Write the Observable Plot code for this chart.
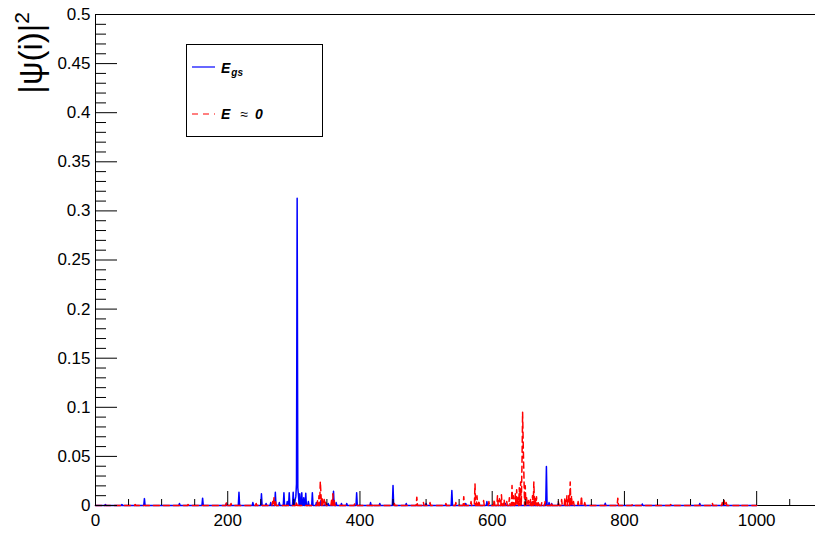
<!DOCTYPE html>
<html>
<head>
<meta charset="utf-8">
<script src="https://cdn.jsdelivr.net/npm/d3@7"></script>
<script src="https://cdn.jsdelivr.net/npm/@observablehq/plot@0.6"></script>
<style>
  html, body { margin: 0; padding: 0; background: #fff; }
  #chart svg { display: block; }
</style>
</head>
<body>
<div id="chart"></div>
<script>
// ---- Data ----
const nSites = 1000;

// ground state |psi(i)|^2 : site index and value of each visible spike
const gsSite  = [15, 40, 74, 127, 162, 198, 217, 238, 251, 258, 265, 272, 278, 285, 290, 293, 299, 302, 303, 304, 305, 306, 307, 309, 312, 315, 318, 322, 328, 334, 341, 348, 352, 360, 364, 372, 380, 395, 416, 430, 450, 470, 500, 539, 560, 592, 620, 650, 660, 670, 682, 686, 690, 700, 771, 827, 914];
const gsValue = [0.001, 0.001, 0.007, 0.002, 0.0075, 0.002, 0.0135, 0.003, 0.012, 0.002, 0.003, 0.0135, 0.003, 0.013, 0.004, 0.013, 0.0135, 0.006, 0.009, 0.022, 0.313, 0.018, 0.01, 0.012, 0.013, 0.008, 0.0125, 0.004, 0.013, 0.003, 0.005, 0.003, 0.002, 0.0146, 0.003, 0.002, 0.002, 0.013, 0.003, 0.002, 0.0204, 0.002, 0.002, 0.0153, 0.002, 0.004, 0.002, 0.003, 0.003, 0.002, 0.0397, 0.003, 0.002, 0.002, 0.0023, 0.0015, 0.002];

// E ~ 0 state |psi(i)|^2
const e0Site  = [10, 60, 140, 198, 205, 243, 268, 270, 272, 304, 336, 338, 340, 341, 343, 346, 348, 357, 359, 361, 392, 420, 452, 486, 496, 506, 530, 545, 557, 568, 574, 577, 580, 587, 595, 603, 608, 611, 614, 618, 622, 626, 630, 632, 635, 637, 639, 641, 643, 645, 646, 647, 648, 650, 652, 655, 658, 661, 663, 665, 667, 670, 675, 680, 690, 700, 705, 710, 713, 716, 718, 720, 723, 730, 735, 740, 790, 812, 870, 933, 948, 951, 954, 976];
const e0Value = [0.001, 0.001, 0.001, 0.003, 0.002, 0.002, 0.004, 0.008, 0.005, 0.004, 0.006, 0.01, 0.0244, 0.012, 0.008, 0.006, 0.003, 0.005, 0.012, 0.006, 0.002, 0.002, 0.002, 0.0085, 0.003, 0.003, 0.002, 0.003, 0.009, 0.004, 0.022, 0.01, 0.005, 0.005, 0.004, 0.006, 0.01, 0.007, 0.011, 0.006, 0.004, 0.008, 0.0204, 0.01, 0.012, 0.016, 0.008, 0.018, 0.024, 0.04, 0.095, 0.06, 0.03, 0.02, 0.008, 0.005, 0.006, 0.01, 0.024, 0.008, 0.009, 0.004, 0.003, 0.004, 0.003, 0.004, 0.006, 0.008, 0.01, 0.012, 0.024, 0.01, 0.004, 0.004, 0.0095, 0.003, 0.0075, 0.001, 0.001, 0.0024, 0.003, 0.005, 0.003, 0.001];

// axes
const xDomain = [0, 1089];
const yDomain = [0, 0.5];
const xMajorTicks = [0, 200, 400, 600, 800, 1000];
const xMinorTicks = [50, 100, 150, 250, 300, 350, 450, 500, 550, 650, 700, 750, 850, 900, 950, 1050];
const yMajorTicks = [0, 0.05, 0.1, 0.15, 0.2, 0.25, 0.3, 0.35, 0.4, 0.45, 0.5];
const yTickLabels = ["0", "0.05", "0.1", "0.15", "0.2", "0.25", "0.3", "0.35", "0.4", "0.45", "0.5"];
const yMinorTicks = d3.range(0, 50).filter(k => k % 5 !== 0).map(k => k / 100);

const legendLabels = ["E", "gs", "E", "≈", "0"];

// full per-site series (sites without a visible spike sit on zero)
function buildSeries(sites, values) {
  const m = new Map(sites.map((s, k) => [s, values[k]]));
  return d3.range(0, nSites + 1).map(i => ({i, v: m.get(i) ?? 0}));
}
const gsSeries = buildSeries(gsSite, gsValue);
const e0Series = buildSeries(e0Site, e0Value);

// ---- Layout ----
const W = 815, H = 539;
const mL = 95, mR = 0, mT = 14, mB = 34;
const plotW = W - mL - mR, plotH = H - mT - mB;
const font = "'Liberation Sans', Arial, Helvetica, sans-serif";

const chart = Plot.plot({
  width: W,
  height: H,
  marginLeft: mL,
  marginRight: mR,
  marginTop: mT,
  marginBottom: mB,
  style: {background: "#fff", fontFamily: font},
  x: {domain: xDomain, axis: null},
  y: {domain: yDomain, axis: null},
  marks: [
    // frame lines
    Plot.ruleY([yDomain[1]], {stroke: "#000", strokeWidth: 1}),
    Plot.ruleX([xDomain[0]], {stroke: "#000", strokeWidth: 1}),
    Plot.ruleY([yDomain[0]], {stroke: "#000", strokeWidth: 1}),
    // data
    Plot.line(gsSeries, {x: "i", y: "v", stroke: "#0000ff", strokeWidth: 1.5}),
    Plot.line(e0Series, {x: "i", y: "v", stroke: "#ff0000", strokeWidth: 1.5, strokeDasharray: "6,4"}),
    // inward ticks
    Plot.ruleX(xMajorTicks, {x: d => d, insetTop: plotH - 14, stroke: "#000"}),
    Plot.ruleX(xMinorTicks, {x: d => d, insetTop: plotH - 6, stroke: "#000"}),
    Plot.ruleY(yMajorTicks, {y: d => d, insetRight: plotW - 22, stroke: "#000"}),
    Plot.ruleY(yMinorTicks, {y: d => d, insetRight: plotW - 11, stroke: "#000"}),
    // tick labels
    Plot.axisX(xMajorTicks, {anchor: "bottom", tickSize: 0, tickPadding: 8, fontSize: 17, label: null, tickFormat: d => String(d), fill: "#000"}),
    Plot.axisY(yMajorTicks, {anchor: "left", tickSize: 0, tickPadding: 5, fontSize: 17, label: null, tickFormat: (d, k) => yTickLabels[k], fill: "#000"})
  ]
});

document.getElementById("chart").appendChild(chart);

// ---- Y-axis title and legend (ROOT-style, in pixel/NDC space) ----
const svg = d3.select(chart);

const title = svg.append("text")
  .attr("transform", "translate(42,12) rotate(-90)")
  .attr("text-anchor", "end")
  .attr("font-family", font)
  .attr("font-size", 33)
  .attr("fill", "#000");
title.append("tspan").text("|ψ(i)|");
title.append("tspan").attr("dy", -13).attr("font-size", 21).text("2");

const lg = svg.append("g").attr("text-anchor", "start");
lg.append("rect").attr("x", 186.5).attr("y", 44.5).attr("width", 136).attr("height", 92)
  .attr("fill", "#fff").attr("stroke", "#000").attr("stroke-width", 1);
lg.append("line").attr("x1", 192).attr("x2", 215).attr("y1", 67).attr("y2", 67)
  .attr("stroke", "#0000ff").attr("stroke-width", 1.2);
lg.append("line").attr("x1", 192).attr("x2", 215).attr("y1", 114).attr("y2", 114)
  .attr("stroke", "#ff0000").attr("stroke-width", 1.2).attr("stroke-dasharray", "6,5");

const t1 = lg.append("text").attr("x", 221).attr("y", 72.5).attr("text-anchor", "start")
  .attr("font-family", font).attr("font-weight", "bold").attr("font-style", "italic")
  .attr("font-size", 14).attr("fill", "#000");
t1.append("tspan").text(legendLabels[0]);
t1.append("tspan").attr("dx", 1).attr("dy", 3.5).attr("font-size", 10).text(legendLabels[1]);

const t2 = lg.append("g").attr("font-family", font).attr("font-weight", "bold").attr("font-style", "italic")
  .attr("font-size", 14).attr("fill", "#000").attr("text-anchor", "start");
t2.append("text").attr("x", 221).attr("y", 118.5).text(legendLabels[2]);
t2.append("text").attr("x", 240.5).attr("y", 118.5).attr("font-weight", "normal").attr("font-style", "normal").text(legendLabels[3]);
t2.append("text").attr("x", 255).attr("y", 118.5).text(legendLabels[4]);
</script>
</body>
</html>
